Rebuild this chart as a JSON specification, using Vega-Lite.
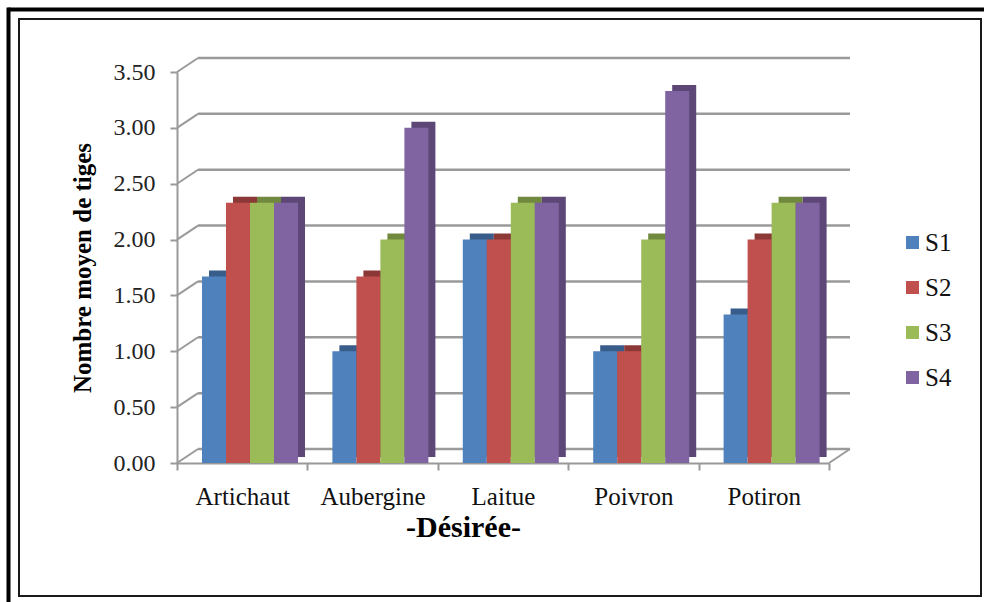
{
  "$schema": "https://vega.github.io/schema/vega-lite/v6.json",
  "width": 962,
  "height": 577,
  "autosize": {"type": "none"},
  "padding": {"left": 19, "top": 19, "right": 3, "bottom": 6},
  "background": "white",
  "config": {
    "view": {"stroke": "#1a1a1a", "strokeWidth": 2},
    "font": "Liberation Serif"
  },
  "datasets": {
    "bars": [
      {"crop": "Artichaut", "serie": "S1", "val": 1.67},
      {"crop": "Artichaut", "serie": "S2", "val": 2.33},
      {"crop": "Artichaut", "serie": "S3", "val": 2.33},
      {"crop": "Artichaut", "serie": "S4", "val": 2.33},
      {"crop": "Aubergine", "serie": "S1", "val": 1.0},
      {"crop": "Aubergine", "serie": "S2", "val": 1.67},
      {"crop": "Aubergine", "serie": "S3", "val": 2.0},
      {"crop": "Aubergine", "serie": "S4", "val": 3.0},
      {"crop": "Laitue", "serie": "S1", "val": 2.0},
      {"crop": "Laitue", "serie": "S2", "val": 2.0},
      {"crop": "Laitue", "serie": "S3", "val": 2.33},
      {"crop": "Laitue", "serie": "S4", "val": 2.33},
      {"crop": "Poivron", "serie": "S1", "val": 1.0},
      {"crop": "Poivron", "serie": "S2", "val": 1.0},
      {"crop": "Poivron", "serie": "S3", "val": 2.0},
      {"crop": "Poivron", "serie": "S4", "val": 3.33},
      {"crop": "Potiron", "serie": "S1", "val": 1.33},
      {"crop": "Potiron", "serie": "S2", "val": 2.0},
      {"crop": "Potiron", "serie": "S3", "val": 2.33},
      {"crop": "Potiron", "serie": "S4", "val": 2.33}
    ],
    "grid": [
      {"v": 0}, {"v": 0.5}, {"v": 1.0}, {"v": 1.5},
      {"v": 2.0}, {"v": 2.5}, {"v": 3.0}, {"v": 3.5}
    ]
  },
  "layer": [
    {
      "data": {"values": [{"fx": 0, "fy": 0}]},
      "mark": {"type": "point", "opacity": 0},
      "encoding": {
        "x": {
          "field": "fx", "type": "quantitative",
          "scale": {"domain": [0, 1], "range": [-11, 965], "nice": false, "zero": false},
          "axis": {"orient": "top", "offset": 10, "labels": false, "ticks": false, "grid": false, "title": null, "domainColor": "#000", "domainWidth": 4}
        },
        "y": {
          "field": "fy", "type": "quantitative",
          "scale": {"domain": [0, 1], "range": [583, -12], "nice": false, "zero": false},
          "axis": {"orient": "left", "offset": 11, "labels": false, "ticks": false, "grid": false, "title": null, "domainColor": "#000", "domainWidth": 4}
        }
      }
    },
    {
      "data": {"name": "grid"},
      "mark": {"type": "rule", "color": "#9a9a9a", "strokeWidth": 2.5, "yOffset": -14},
      "encoding": {
        "x": {"datum": 0, "type": "quantitative", "scale": {"domain": [0, 1], "range": [179, 831], "nice": false, "zero": false}, "axis": null},
        "x2": {"datum": 1},
        "y": {"field": "v", "type": "quantitative", "scale": {"domain": [0, 3.5], "range": [444, 53], "nice": false, "zero": false}, "axis": null}
      }
    },
    {
      "data": {"name": "grid"},
      "mark": {"type": "rule", "color": "#9a9a9a", "strokeWidth": 2, "xOffset": -21, "y2Offset": -14},
      "encoding": {
        "x": {"datum": 0, "type": "quantitative", "scale": {"domain": [0, 1], "range": [179, 831], "nice": false, "zero": false}, "axis": null},
        "x2": {"datum": 0},
        "y": {"field": "v", "type": "quantitative", "scale": {"domain": [0, 3.5], "range": [444, 53], "nice": false, "zero": false}, "axis": null},
        "y2": {"field": "v"}
      }
    },
    {
      "data": {"values": [{"v": 0}]},
      "mark": {"type": "rule", "color": "#9a9a9a", "strokeWidth": 2, "xOffset": -21, "y2Offset": -14},
      "encoding": {
        "x": {"datum": 1, "type": "quantitative", "scale": {"domain": [0, 1], "range": [179, 831], "nice": false, "zero": false}, "axis": null},
        "x2": {"datum": 1},
        "y": {"field": "v", "type": "quantitative", "scale": {"domain": [0, 3.5], "range": [444, 53], "nice": false, "zero": false}, "axis": null},
        "y2": {"field": "v"}
      }
    },
    {
      "data": {"name": "bars"},
      "mark": {"type": "bar", "yOffset": -6, "y2Offset": -6},
      "encoding": {
        "x": {
          "field": "crop", "type": "nominal", "sort": null,
          "scale": {"type": "band", "domain": ["Artichaut", "Aubergine", "Laitue", "Poivron", "Potiron"], "range": [158, 810], "paddingInner": 0, "paddingOuter": 0},
          "axis": null
        },
        "xOffset": {
          "field": "serie", "type": "nominal",
          "scale": {"type": "band", "domain": ["S1", "S2", "S3", "S4"], "range": [32, 128], "paddingInner": 0, "paddingOuter": 0}
        },
        "y": {"field": "val", "type": "quantitative", "scale": {"domain": [0, 3.5], "range": [444, 53], "nice": false, "zero": false}, "axis": null},
        "color": {
          "field": "serie", "type": "nominal",
          "scale": {"domain": ["S1", "S2", "S3", "S4"], "range": ["#385D8A", "#8C3836", "#71893E", "#5C4776"]},
          "legend": null
        }
      }
    },
    {
      "data": {"name": "bars"},
      "mark": {"type": "bar"},
      "encoding": {
        "x": {
          "field": "crop", "type": "nominal", "sort": null,
          "scale": {"type": "band", "domain": ["Artichaut", "Aubergine", "Laitue", "Poivron", "Potiron"], "range": [158, 810], "paddingInner": 0, "paddingOuter": 0},
          "axis": {
            "orient": "bottom", "offset": -133, "tickBand": "extent", "tickSize": 7,
            "tickColor": "#999", "tickWidth": 2, "domainColor": "#999", "domainWidth": 2,
            "labelAngle": 0, "labelFont": "Liberation Serif", "labelFontSize": 25, "labelColor": "#111", "labelPadding": 14, "grid": false,
            "title": "-Désirée-", "titleFont": "Liberation Serif", "titleFontSize": 30, "titleFontWeight": "bold", "titleColor": "#000",
            "titleX": 444, "titleY": 73, "titleBaseline": "alphabetic", "titleAlign": "center"
          }
        },
        "xOffset": {
          "field": "serie", "type": "nominal",
          "scale": {"type": "band", "domain": ["S1", "S2", "S3", "S4"], "range": [25, 121], "paddingInner": 0, "paddingOuter": 0}
        },
        "y": {
          "field": "val", "type": "quantitative",
          "scale": {"domain": [0, 3.5], "range": [444, 53], "nice": false, "zero": false},
          "axis": {
            "orient": "left", "offset": -158, "values": [0, 0.5, 1, 1.5, 2, 2.5, 3, 3.5], "format": ".2f",
            "tickSize": 7, "tickColor": "#999", "tickWidth": 2, "domainColor": "#999", "domainWidth": 2,
            "labelFont": "Liberation Serif", "labelFontSize": 24, "labelColor": "#222", "labelPadding": 15, "grid": false,
            "title": "Nombre moyen de tiges", "titleFont": "Liberation Serif", "titleFontSize": 25, "titleFontWeight": "bold", "titleColor": "#000",
            "titleX": -82
          }
        },
        "color": {
          "field": "serie", "type": "nominal",
          "scale": {"domain": ["S1", "S2", "S3", "S4"], "range": ["#4F81BD", "#C0504D", "#9BBB59", "#8064A2"]},
          "legend": {
            "title": null, "orient": "none", "legendX": 881, "legendY": 211,
            "symbolType": "square", "symbolSize": 169, "symbolStrokeWidth": 0,
            "labelFont": "Liberation Serif", "labelFontSize": 25, "labelColor": "#111",
            "labelOffset": 0, "rowPadding": 19, "padding": 0
          }
        }
      }
    }
  ],
  "resolve": {
    "scale": {"x": "independent", "y": "independent", "xOffset": "independent", "color": "independent"},
    "axis": {"x": "independent", "y": "independent"},
    "legend": {"color": "independent"}
  }
}
